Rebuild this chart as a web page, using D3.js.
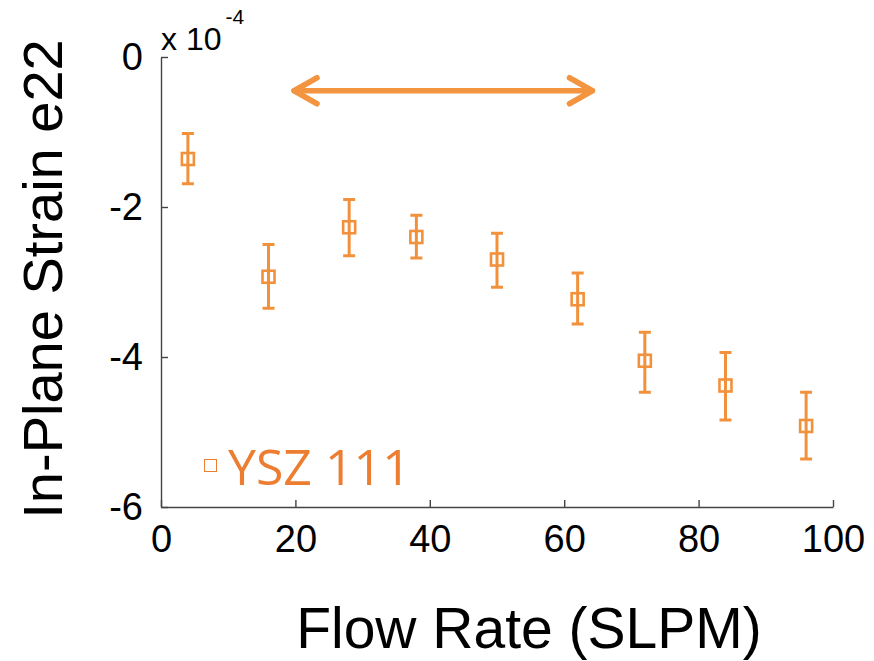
<!DOCTYPE html>
<html>
<head>
<meta charset="utf-8">
<script src="https://cdn.jsdelivr.net/npm/d3@7"></script>
<style>
  body { margin: 0; background: #fff; }
</style>
</head>
<body>
<svg id="chart"></svg>
<script>
// flow rate (SLPM)
const flowRate = [4, 16, 28, 38, 50, 62, 72, 84, 96];
// strain e22, in units of 1e-4
const strain  = [-1.36, -2.93, -2.27, -2.40, -2.70, -3.23, -4.05, -4.38, -4.92];
const errHigh = [-1.02, -2.50, -1.90, -2.11, -2.35, -2.88, -3.67, -3.94, -4.47];
const errLow  = [-1.69, -3.35, -2.65, -2.68, -3.07, -3.56, -4.47, -4.84, -5.36];
const xTicks = [0, 20, 40, 60, 80, 100];
const yTicks = [-6, -4, -2, 0];
const arrowRange = [19.5, 64.5];
const arrowLevel = -0.45;
const seriesName = "YSZ 111";

class StrainChart {
    constructor(_config) {
        this.config = {
            parentElement: _config.parentElement,
            containerWidth: _config.containerWidth || 874,
            containerHeight: _config.containerHeight || 661,
            margin: { top: 57, bottom: 154, right: 41, left: 161 }
        }
        this.initVis();
    }

    initVis() {
        let vis = this;
        vis.width = vis.config.containerWidth - vis.config.margin.left - vis.config.margin.right;
        vis.height = vis.config.containerHeight - vis.config.margin.top - vis.config.margin.bottom;
        vis.color = '#f2913b';

        vis.svg = d3.select(vis.config.parentElement)
            .attr('width', vis.config.containerWidth)
            .attr('height', vis.config.containerHeight);
        vis.chart = vis.svg.append('g')
            .attr('transform', `translate(${vis.config.margin.left},${vis.config.margin.top})`);

        vis.xScale = d3.scaleLinear().domain([0, 100]).range([0, vis.width]);
        vis.yScale = d3.scaleLinear().domain([-6, 0]).range([vis.height, 0]);

        vis.data = flowRate.map((f, i) => ({ x: f, y: strain[i], hi: errHigh[i], lo: errLow[i] }));
        vis.updateVis();
    }

    updateVis() {
        let vis = this;

        // axes, ticks pointing inward
        vis.xAxis = d3.axisBottom(vis.xScale)
            .tickValues(xTicks)
            .tickSizeInner(-7)
            .tickSizeOuter(0)
            .tickPadding(18)
            .tickFormat(d => String(d));
        vis.yAxis = d3.axisLeft(vis.yScale)
            .tickValues(yTicks)
            .tickSizeInner(-7)
            .tickSizeOuter(0)
            .tickPadding(18)
            .tickFormat(d => String(d));

        let xg = vis.chart.append('g')
            .attr('class', 'axis x-axis')
            .attr('transform', `translate(0,${vis.height})`)
            .call(vis.xAxis);
        let yg = vis.chart.append('g')
            .attr('class', 'axis y-axis')
            .call(vis.yAxis);

        [xg, yg].forEach(g => {
            g.selectAll('path, line').attr('stroke', '#444').attr('stroke-width', 1.4);
            g.selectAll('text')
                .attr('fill', '#000')
                .style('font-family', 'Liberation Sans, Arial, sans-serif')
                .style('font-size', '38px');
        });

        // exponent label
        let expo = vis.svg.append('text')
            .attr('x', 161)
            .attr('y', 50)
            .style('font-family', 'Liberation Sans, Arial, sans-serif')
            .style('font-size', '32px');
        expo.append('tspan').text('x 10');
        expo.append('tspan')
            .attr('dx', 4)
            .attr('dy', -26)
            .style('font-size', '21px')
            .text('-4');

        // axis titles
        vis.svg.append('text')
            .attr('transform', 'translate(62,279) rotate(-90)')
            .attr('text-anchor', 'middle')
            .style('font-family', 'Liberation Sans, Arial, sans-serif')
            .style('font-size', '56px')
            .text('In-Plane Strain e22');
        vis.svg.append('text')
            .attr('x', 529)
            .attr('y', 648)
            .attr('text-anchor', 'middle')
            .style('font-family', 'Liberation Sans, Arial, sans-serif')
            .style('font-size', '57px')
            .text('Flow Rate (SLPM)');

        // error bars
        let eb = vis.chart.selectAll('.err')
            .data(vis.data)
            .enter()
            .append('g')
            .attr('class', 'err')
            .attr('stroke', vis.color)
            .attr('stroke-width', 3);
        eb.append('line')
            .attr('x1', d => vis.xScale(d.x))
            .attr('x2', d => vis.xScale(d.x))
            .attr('y1', d => vis.yScale(d.hi))
            .attr('y2', d => vis.yScale(d.lo));
        eb.append('line')
            .attr('x1', d => vis.xScale(d.x) - 6)
            .attr('x2', d => vis.xScale(d.x) + 6)
            .attr('y1', d => vis.yScale(d.hi))
            .attr('y2', d => vis.yScale(d.hi));
        eb.append('line')
            .attr('x1', d => vis.xScale(d.x) - 6)
            .attr('x2', d => vis.xScale(d.x) + 6)
            .attr('y1', d => vis.yScale(d.lo))
            .attr('y2', d => vis.yScale(d.lo));

        // square markers
        vis.chart.selectAll('.pt')
            .data(vis.data)
            .enter()
            .append('rect')
            .attr('class', 'pt')
            .attr('x', d => vis.xScale(d.x) - 6)
            .attr('y', d => vis.yScale(d.y) - 6)
            .attr('width', 12)
            .attr('height', 12)
            .attr('fill', 'none')
            .attr('stroke', vis.color)
            .attr('stroke-width', 2.6);

        // double headed arrow
        let ax0 = vis.xScale(arrowRange[0]), ax1 = vis.xScale(arrowRange[1]);
        let ay = vis.yScale(arrowLevel);
        let arrow = vis.chart.append('g')
            .attr('stroke', '#f29440')
            .attr('stroke-width', 5.5)
            .attr('stroke-linecap', 'round')
            .attr('stroke-linejoin', 'round')
            .attr('fill', 'none');
        arrow.append('line')
            .attr('x1', ax0 + 2).attr('x2', ax1 - 2)
            .attr('y1', ay).attr('y2', ay);
        arrow.append('path')
            .attr('d', `M${ax0 + 25},${ay - 13}L${ax0 + 2},${ay}L${ax0 + 25},${ay + 13}`);
        arrow.append('path')
            .attr('d', `M${ax1 - 25},${ay - 13}L${ax1 - 2},${ay}L${ax1 - 25},${ay + 13}`);

        // legend
        let lg = vis.svg.append('g').attr('transform', 'translate(204,459)');
        lg.append('rect')
            .attr('x', 0.5).attr('y', 0.5)
            .attr('width', 12).attr('height', 12)
            .attr('fill', 'none')
            .attr('stroke', '#ed7d31')
            .attr('stroke-width', 1);
        lg.append('text')
            .attr('x', 24)
            .attr('y', 26)
            .attr('fill', '#ed7d31')
            .style('font-family', 'Open Sans, sans-serif')
            .style('font-size', '50px')
            .text(seriesName);
    }
}

new StrainChart({ parentElement: '#chart' });
</script>
</body>
</html>
